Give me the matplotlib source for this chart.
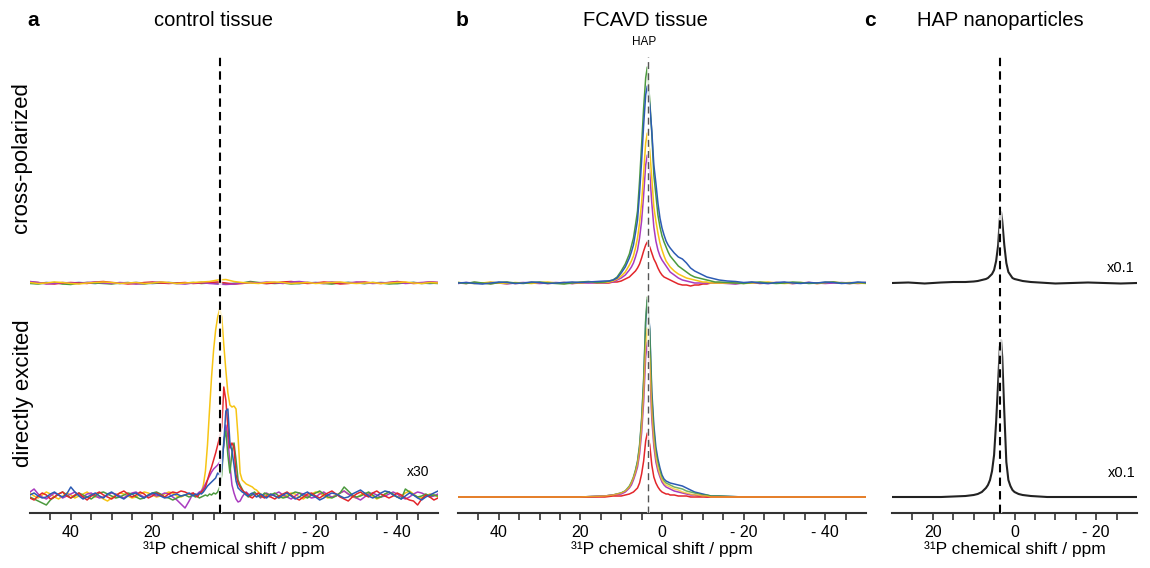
import numpy as np
import matplotlib
matplotlib.use("Agg")
import matplotlib.pyplot as plt

plt.rcParams['font.family'] = ['Liberation Sans', 'DejaVu Sans']

# ---------------- colours ----------------
YEL = '#F7C514'
RED = '#E3262B'
BLU = '#2C5BB4'
GRN = '#4C9A3E'
PUR = '#A93BBF'
BLK = '#222222'

HAP_PPM = 3.5

# ---------------- panel a : control tissue ----------------
# top row (cross-polarized), ppm 50 .. -50 step 2
ppm_a_top = np.arange(50, -51, -2)
yellow_a_top = [0.5,-0.5,0,1,0.5,-0.5,-1,0,0.5,1,
                0.5,-0.5,0,0.5,-0.5,0,1,0.5,-0.5,0,
                0.5,1,1.5,3,3.5,1.5,0.5,0,-0.5,0.5,
                1,0.5,-0.5,0,0.5,-0.5,0,0.5,1,0,
                -0.5,0,0.5,-0.5,0,0.5,1,0,-0.5,0.5,0]
red_a_top = [1,0.5,-0.5,-1,0,0.5,0,-0.5,1,1.5,
             0.5,0,-1,-0.5,0.5,1,0,-0.5,0,0.5,
             -0.5,0,0.5,1,0,-1,-0.5,0.5,0,-0.5,
             0,1,1.5,0.5,-0.5,0,1,0.5,-1,-0.5,
             0.5,1,0,-0.5,0.5,1.5,0.5,-0.5,0,1,0.5]
green_a_top = [-0.5,-1,0,0.5,-1,-1.5,0,0.5,0,-0.5,
               -1,0,0.5,-0.5,-1,0,0.5,0,-0.5,0,
               0.5,-0.5,0,-0.5,-1,-0.5,0,1.5,0.5,0,
               -0.5,0,-1,-0.5,0.5,0,-0.5,-1,0,0.5,
               0,-0.5,0.5,0,-1,-0.5,0,0.5,-0.5,0,-0.5]
purple_a_top = [1.5,0.5,-1,-0.5,0.5,0,-0.5,0.5,1,0,
                -0.5,0.5,0,-1,-0.5,0.5,1,0,-0.5,-1,
                0,0.5,-0.5,-1,-1.5,-1,0,0.5,0,1,
                0.5,-0.5,1,1.5,0.5,0,-0.5,1,0.5,0,
                1,0.5,-0.5,0,0.5,1,-0.5,0,0.5,1,0.5]
blue_a_top = [0,-0.5,0.5,0,-0.5,0,0.5,0,-0.5,0.5,
              0,-0.5,0,0.5,0,-0.5,0,0.5,0,-0.5,
              0,0.5,0,-0.5,-1,-0.5,0,0.5,0,-0.5,
              0,0.5,0,-0.5,0,0.5,0,-0.5,0,0.5,
              0,-0.5,0,0.5,0,-0.5,0,0.5,0,-0.5,0]

# bottom row (directly excited, x30): ppm 50..11 (1), 10..-8 (0.5), -9..-50 (1)
ppm_a_left = np.arange(50, 10, -1)
ppm_a_peak = np.arange(10, -8.01, -0.5)
ppm_a_right = np.arange(-9, -51, -1)

yellow_a_left = [2,-1,-3,0,3,1,-2,-4,-1,2,
                 0,-3,-1,1,3,0,-2,-1,-4,-6,
                 -3,0,2,1,-1,-3,-2,1,3,2,
                 0,-2,-1,1,3,2,-1,-2,0,1]
yellow_a_peak = [1,-1,0,1,3,10,24,50,85,118,
                 145,165,178,186,178,150,125,102,90,88,
                 89,86,58,22,15,13,11,10,9,8,
                 6,5,3,1,0,-1,0]
yellow_a_right = [1,-1,-3,-2,0,2,1,-2,-4,-1,
                  1,3,2,-1,-3,-2,0,2,4,1,
                  -2,-3,0,2,1,-1,-4,-2,1,3,
                  0,-2,-1,2,4,1,-2,-3,-1,1,
                  0,-2]

red_a_left = [-3,-5,-1,2,0,-4,-2,1,3,-1,
              -3,0,2,-2,-5,-1,1,3,0,-2,
              -4,-1,2,4,1,-2,0,3,1,-3,
              -1,2,0,-2,1,3,2,4,3,1]
red_a_peak = [2,0,-2,1,3,5,8,15,22,28,
              35,42,50,58,68,108,95,68,47,52,
              48,20,12,8,5,3,2,0,-2,-3,
              -1,1,2,0,-2,-3,-1]
red_a_right = [-2,-4,-1,1,3,0,-3,-5,-2,1,
               2,-1,-3,0,2,4,1,-2,-4,-6,
               -2,1,3,0,-2,2,4,1,-1,-3,
               -1,2,0,-3,-5,-6,-10,-4,0,-2,
               -5,-3]

blue_a_left = [0,2,-1,-3,-2,1,3,0,-2,1,
               8,3,-1,-4,-2,0,2,-1,-3,1,
               3,0,-2,-4,-1,1,2,-1,-3,0,
               2,1,-1,-3,-2,0,1,-1,0,2]
blue_a_peak = [-1,1,0,2,1,3,6,9,11,13,
               15,17,22,20,26,52,84,86,52,44,
               30,14,7,5,3,2,0,-1,1,2,
               0,-2,-1,1,0,-2,-3]
blue_a_right = [1,-1,-3,0,2,-1,-4,-2,1,3,
                0,-2,-5,-3,0,2,1,-1,-3,-2,
                1,3,5,2,-1,-3,-1,2,4,3,
                0,-2,-4,-1,2,0,-3,-5,-2,0,
                2,4]

green_a_left = [-2,-4,-6,-8,-10,-5,-2,1,3,0,
                -3,-1,2,0,-2,-4,-1,2,3,1,
                -1,-3,-2,0,2,1,-2,-4,-3,0,
                2,3,1,-2,-3,-5,-3,-1,0,-2]
green_a_peak = [0,-2,-1,-3,-2,-1,0,-1,1,0,
                2,1,3,8,20,55,64,40,22,42,
                52,35,15,10,6,2,0,-2,-1,1,
                3,1,-1,-2,0,2,1]
green_a_right = [0,2,-1,-3,-2,1,3,2,-1,-3,
                 0,2,4,1,-2,-3,-1,2,8,4,
                 0,-2,-1,1,3,0,-3,-2,1,3,
                 1,-2,-4,6,3,0,-2,-1,1,-1,
                 0,-1]

purple_a_left = [3,6,1,-2,-4,-1,2,0,-3,-1,
                 1,3,0,-2,1,2,-1,-3,-2,0,
                 2,1,-1,-3,0,2,3,0,-2,-1,
                 1,-1,0,2,1,-2,-5,-9,-13,-6]
purple_a_peak = [2,0,1,3,4,7,11,15,19,23,
                 26,28,30,33,38,50,70,58,30,10,
                 2,-4,-7,-6,-2,1,3,1,-1,0,
                 2,1,-1,-3,-1,1,2]
purple_a_right = [-1,1,3,0,-2,-4,-1,2,1,-1,
                  -3,-2,1,3,0,-2,-1,2,4,1,
                  -1,-3,-5,-2,1,2,0,-2,-1,1,
                  3,1,-2,-4,-2,1,3,2,0,-2,
                  -1,1]

# ---------------- panel b : FCAVD tissue ----------------
ppm_b_left = np.arange(50, 13, -2)                       # 19 pts
ppm_b_peak = np.array([13,12,11,10,9,8,7.5,7,6.5,6,5.5,5,4.5,4,3.6,
                       3,2.5,2,1.5,1,0.5,0,-0.5,-1,-1.5,-2,
                       -3,-4,-5,-6,-7,-8,-9,-10,-11,-12,-13,-14])
ppm_b_right = np.arange(-16, -51, -2)                    # 18 pts

green_b_top_l = [0.5,-0.5,1,0,-1,0.5,1,0,-0.5,0.5,1,0,-0.5,-1,0,1,1.5,0.5,1]
green_b_top_pk = [2,3,6,12,19,29,37,45,58,72,102,138,175,205,216,182,150,108,88,68,
                  56,47,41,36,31,27,22,17,14,11,8,6,5,4,3,2,1,1]
green_b_top_r = [0.5,0,-0.5,0.5,1,0,-0.5,0,1,0.5,-0.5,0,0.5,1,0,-0.5,0.5,0]

blue_b_top_l = [0,0.5,-0.5,-1,0,1,0.5,-0.5,0,1,0.5,-0.5,0,0.5,1,0.5,1,1.5,2]
blue_b_top_pk = [2,3,5,10,16,25,31,38,50,63,90,122,158,188,197,178,152,118,100,80,
                 65,55,48,42,38,35,30,26,24,20,15,12,10,8,6,5,4,3]
blue_b_top_r = [2,1.5,0.5,1,0,-0.5,0.5,1,0,-0.5,0.5,0,1,0.5,-0.5,0,1,0.5]

yellow_b_top_l = [0.5,0,-0.5,0,1,0,-0.5,0.5,0,-0.5,0.5,1,0,-0.5,0.5,0,1,0.5,0.5]
yellow_b_top_pk = [1,2,4,7,11,18,22,27,35,45,60,80,110,140,150,132,105,76,62,50,
                   40,33,27,22,19,16,12,9,7,5,4,3,2,1,1,0,0,0]
yellow_b_top_r = [0,0.5,-0.5,0,0.5,1,0,-0.5,0,0.5,0,-0.5,0.5,1,0,0.5,0,-0.5]

purple_b_top_l = [-0.5,0.5,0,-0.5,0.5,0,-1,0,0.5,0,-0.5,0,0.5,0,-0.5,0.5,0,0.5,0]
purple_b_top_pk = [1,1,3,5,8,13,16,20,26,33,45,62,88,118,128,110,80,56,42,33,
                   27,23,20,17,14,11,8,5,3,2,1,0,0,0,0,0,0,0]
purple_b_top_r = [-0.5,-1,0,0.5,0,-0.5,0,0.5,-0.5,0,0.5,0,-0.5,0,0.5,0,-0.5,0]

red_b_top_l = [0,-0.5,0.5,0,-0.5,0,0.5,-0.5,0,0.5,0,-0.5,0,0.5,-0.5,0,0.5,0,0]
red_b_top_pk = [0,1,1,2,4,6,8,10,12,15,19,25,32,38,41,36,30,24,20,15,
                11,8,6,5,4,3,1,-1,-2,-2,-3,-2,-2,-1,-1,0,0,0]
red_b_top_r = [0,-0.5,0,0.5,-0.5,0,0.5,0,-0.5,0,0.5,-0.5,0,0.5,0,-0.5,0,0.5]

ppm_b_bot = np.array([50,30,20,14,12,10,9,8,7.5,7,6.5,6,5.5,5,4.5,4,3.6,
                      3,2.5,2,1.5,1,0.5,0,-0.5,-1,-1.5,-2,
                      -3,-4,-5,-6,-7,-8,-9,-10,-11,-12,-14,-20,-30,-50])
green_b_bot = [0,0,0,1,2,4,6,11,15,20,27,36,52,78,118,178,200,
               165,100,66,45,34,26,19,16,14,13,12,
               10,9,8,6,5,4,3,2,2,1,1,0,0,0]
blue_b_bot = [0,0,0,1,2,4,6,10,14,19,26,35,50,76,115,175,197,
              168,106,72,50,38,29,22,18,16,15,14,
              13,12,11,9,7,5,4,3,2,1,1,0,0,0]
yellow_b_bot = [0,0,0,1,2,4,6,10,14,19,25,33,47,70,104,152,169,
                138,85,56,39,29,22,17,14,12,11,10,
                8,7,5,4,3,2,2,1,1,0,0,0,0,0]
purple_b_bot = [0,0,0,1,2,3,5,9,12,17,23,30,43,64,95,140,155,
                127,78,51,35,26,20,15,12,10,9,8,
                6,5,4,3,2,2,1,1,0,0,0,0,0,0]
red_b_bot = [0,0,0,0,1,1,2,3,4,5,7,9,14,23,36,56,64,
             52,32,20,14,10,7,5,4,3,3,2,
             2,1,1,1,0,0,0,0,0,0,0,0,0,0]

# ---------------- panel c : HAP nanoparticles (x0.1) ----------------
ppm_c = np.array([30,26,22,18,15,12,10,9,8,7,6.5,6,5.5,5,4.5,4,3.6,3.3,3,2.5,
                  2,1.5,1,0.5,0,-1,-2,-3,-4,-6,-8,-10,-14,-18,-22,-26,-30])
hap_c_top = [0,0.5,-0.5,0.5,1,1,1.5,2,3,4,5,7,9,13,22,38,64,71,62,38,
             20,11,8,5,4,3,2,1.5,1,0.5,0,-0.5,0,0.5,0,-0.5,0]
hap_c_bot = [0,0,0,0,0.5,1,2,3,5,9,12,17,26,42,75,115,150,157,140,85,
             35,17,11,7,5,3,2,1.5,1,0.5,0,0,0,0,0,0,0]

# ---------------- layout ----------------
W, H = 1150, 568
fig = plt.figure(figsize=(W / 100, H / 100), dpi=100)

def frac_axes(x0, x1, ytop, ybot):
    return fig.add_axes([x0 / W, 1 - ybot / H, (x1 - x0) / W, (ybot - ytop) / H])

ax_a = frac_axes(30, 438, 57, 513)
ax_b = frac_axes(458, 866, 57, 513)
ax_c = frac_axes(892, 1137, 57, 513)

TOP_OFF = 230
BOT_OFF_A = 18
BOT_OFF = 16
LW = 1.1

def style(ax, lim, major, labels, minor):
    ax.set_xlim(lim, -lim)
    ax.set_ylim(0, 456)
    for s in ('left', 'right', 'top'):
        ax.spines[s].set_visible(False)
    ax.spines['bottom'].set_linewidth(1.5)
    ax.spines['bottom'].set_color('#333333')
    ax.set_yticks([])
    ax.set_xticks(major)
    ax.set_xticklabels(labels)
    ax.set_xticks(minor, minor=True)
    ax.tick_params(axis='x', which='both', direction='out', length=5, width=1.2,
                   color='#333333', labelsize=11.5, pad=3.5)
    ax.set_xlabel('³¹P chemical shift / ppm', fontsize=12.5, labelpad=1)

def hap_line(ax, lw, color, dash, halo):
    ax.axvline(HAP_PPM, color='white', lw=halo, alpha=0.8, zorder=6)
    ax.axvline(HAP_PPM, color=color, lw=lw, ls=(0, dash), zorder=7)

# panel a
for y, c in [(blue_a_top, BLU), (green_a_top, GRN), (red_a_top, RED),
             (purple_a_top, PUR), (yellow_a_top, YEL)]:
    ax_a.plot(ppm_a_top, np.array(y) + TOP_OFF, color=c, lw=LW)
ppm_a_bot = np.concatenate([ppm_a_left, ppm_a_peak, ppm_a_right])
for l, p, r, c in [(yellow_a_left, yellow_a_peak, yellow_a_right, YEL),
                   (purple_a_left, purple_a_peak, purple_a_right, PUR),
                   (green_a_left, green_a_peak, green_a_right, GRN),
                   (red_a_left, red_a_peak, red_a_right, RED),
                   (blue_a_left, blue_a_peak, blue_a_right, BLU)]:
    ax_a.plot(ppm_a_bot, np.array(l + p + r) + BOT_OFF_A, color=c, lw=LW)
hap_line(ax_a, 1.5, 'black', (4, 2.5), 2.5)
style(ax_a, 50, [40, 20, -20, -40], ['40', '20', '- 20', '- 40'],
      [v for v in range(45, -50, -5)])

# panel b
ppm_b_top = np.concatenate([ppm_b_left, ppm_b_peak, ppm_b_right])
for l, p, r, c in [(red_b_top_l, red_b_top_pk, red_b_top_r, RED),
                   (purple_b_top_l, purple_b_top_pk, purple_b_top_r, PUR),
                   (yellow_b_top_l, yellow_b_top_pk, yellow_b_top_r, YEL),
                   (green_b_top_l, green_b_top_pk, green_b_top_r, GRN),
                   (blue_b_top_l, blue_b_top_pk, blue_b_top_r, BLU)]:
    ax_b.plot(ppm_b_top, np.array(l + p + r) + TOP_OFF, color=c, lw=LW)
for y, c, a in [(blue_b_bot, BLU, 1.0), (green_b_bot, GRN, 0.8),
                (purple_b_bot, PUR, 1.0), (red_b_bot, RED, 1.0),
                (yellow_b_bot, YEL, 0.7)]:
    ax_b.plot(ppm_b_bot, np.array(y) + BOT_OFF, color=c, lw=LW, alpha=a)
hap_line(ax_b, 1.0, '#555555', (5, 3), 2.0)
style(ax_b, 50, [40, 20, 0, -20, -40], ['40', '20', '0', '- 20', '- 40'],
      [v for v in range(45, -50, -5)])

# panel c
ax_c.plot(ppm_c, np.array(hap_c_top) + TOP_OFF, color=BLK, lw=1.5)
ax_c.plot(ppm_c, np.array(hap_c_bot) + BOT_OFF, color=BLK, lw=1.5)
hap_line(ax_c, 1.5, 'black', (4, 2.5), 2.5)
style(ax_c, 30, [20, 0, -20], ['20', '0', '- 20'],
      [v for v in range(25, -30, -5)])

# ---------------- texts ----------------
def ftext(x, y, s, **kw):
    fig.text(x / W, 1 - y / H, s, ha='center', va='center', **kw)

ftext(33, 20, 'a', fontsize=15, fontweight='bold')
ftext(462, 20, 'b', fontsize=15, fontweight='bold')
ftext(870, 20, 'c', fontsize=15, fontweight='bold')
ftext(213, 20, 'control tissue', fontsize=14.5)
ftext(645, 20, 'FCAVD tissue', fontsize=14.5)
ftext(1000, 20, 'HAP nanoparticles', fontsize=14.5)
ftext(644, 42, 'HAP', fontsize=8.5)
ftext(22, 158, 'cross-polarized', fontsize=16, rotation=90)
ftext(24, 393, 'directly excited', fontsize=16, rotation=90)
ftext(418, 472, 'x30', fontsize=10)
ftext(1121, 268, 'x0.1', fontsize=10.5)
ftext(1122, 473, 'x0.1', fontsize=10.5)

fig.savefig('out.png', dpi=100)
